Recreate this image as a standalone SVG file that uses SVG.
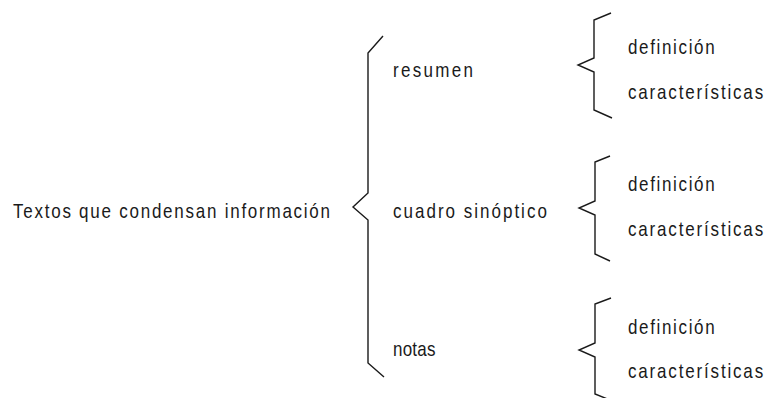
<svg xmlns="http://www.w3.org/2000/svg" width="765" height="398" viewBox="0 0 765 398">
<style>
.t{font-family:"Liberation Sans",Arial,sans-serif;font-size:20px;fill:#1a1a1a}
.b{fill:none;stroke:#1a1a1a;stroke-width:1.4;stroke-linejoin:miter}
</style>
<rect width="765" height="398" fill="#ffffff"/>
<g id="connectors">
<path class="b" d="M383,36 L368,53 L368,193 L353,207 L368,220 L368,363 L384,377"/>
<path class="b" d="M611,13 L594,20 L594,58 L578,65 L594,72 L594,110 L612,118"/>
<path class="b" d="M610,156 L595,162 L595,201 L579,208 L595,215 L595,254 L610,261"/>
<path class="b" d="M611,298 L595,304 L595,343 L579,350 L595,357 L595,394 L610,400"/>
</g>
<g id="root"><text class="t" transform="translate(13,218) scale(0.85,1)" textLength="373" lengthAdjust="spacing">Textos que condensan información</text></g>
<g id="resumen"><text class="t" transform="translate(393,77) scale(0.85,1)" textLength="94" lengthAdjust="spacing">resumen</text></g>
<g id="cuadro"><text class="t" transform="translate(393,218) scale(0.85,1)" textLength="181" lengthAdjust="spacing">cuadro sinóptico</text></g>
<g id="notas"><text class="t" transform="translate(393,356) scale(0.85,1)" textLength="50" lengthAdjust="spacing">notas</text></g>
<g id="def1"><text class="t" transform="translate(628,54) scale(0.85,1)" textLength="102" lengthAdjust="spacing">definición</text></g>
<g id="car1"><text class="t" transform="translate(628,99) scale(0.85,1)" textLength="159" lengthAdjust="spacing">características</text></g>
<g id="def2"><text class="t" transform="translate(628,191) scale(0.85,1)" textLength="102" lengthAdjust="spacing">definición</text></g>
<g id="car2"><text class="t" transform="translate(628,236) scale(0.85,1)" textLength="159" lengthAdjust="spacing">características</text></g>
<g id="def3"><text class="t" transform="translate(628,334) scale(0.85,1)" textLength="102" lengthAdjust="spacing">definición</text></g>
<g id="car3"><text class="t" transform="translate(628,378) scale(0.85,1)" textLength="159" lengthAdjust="spacing">características</text></g>
</svg>
